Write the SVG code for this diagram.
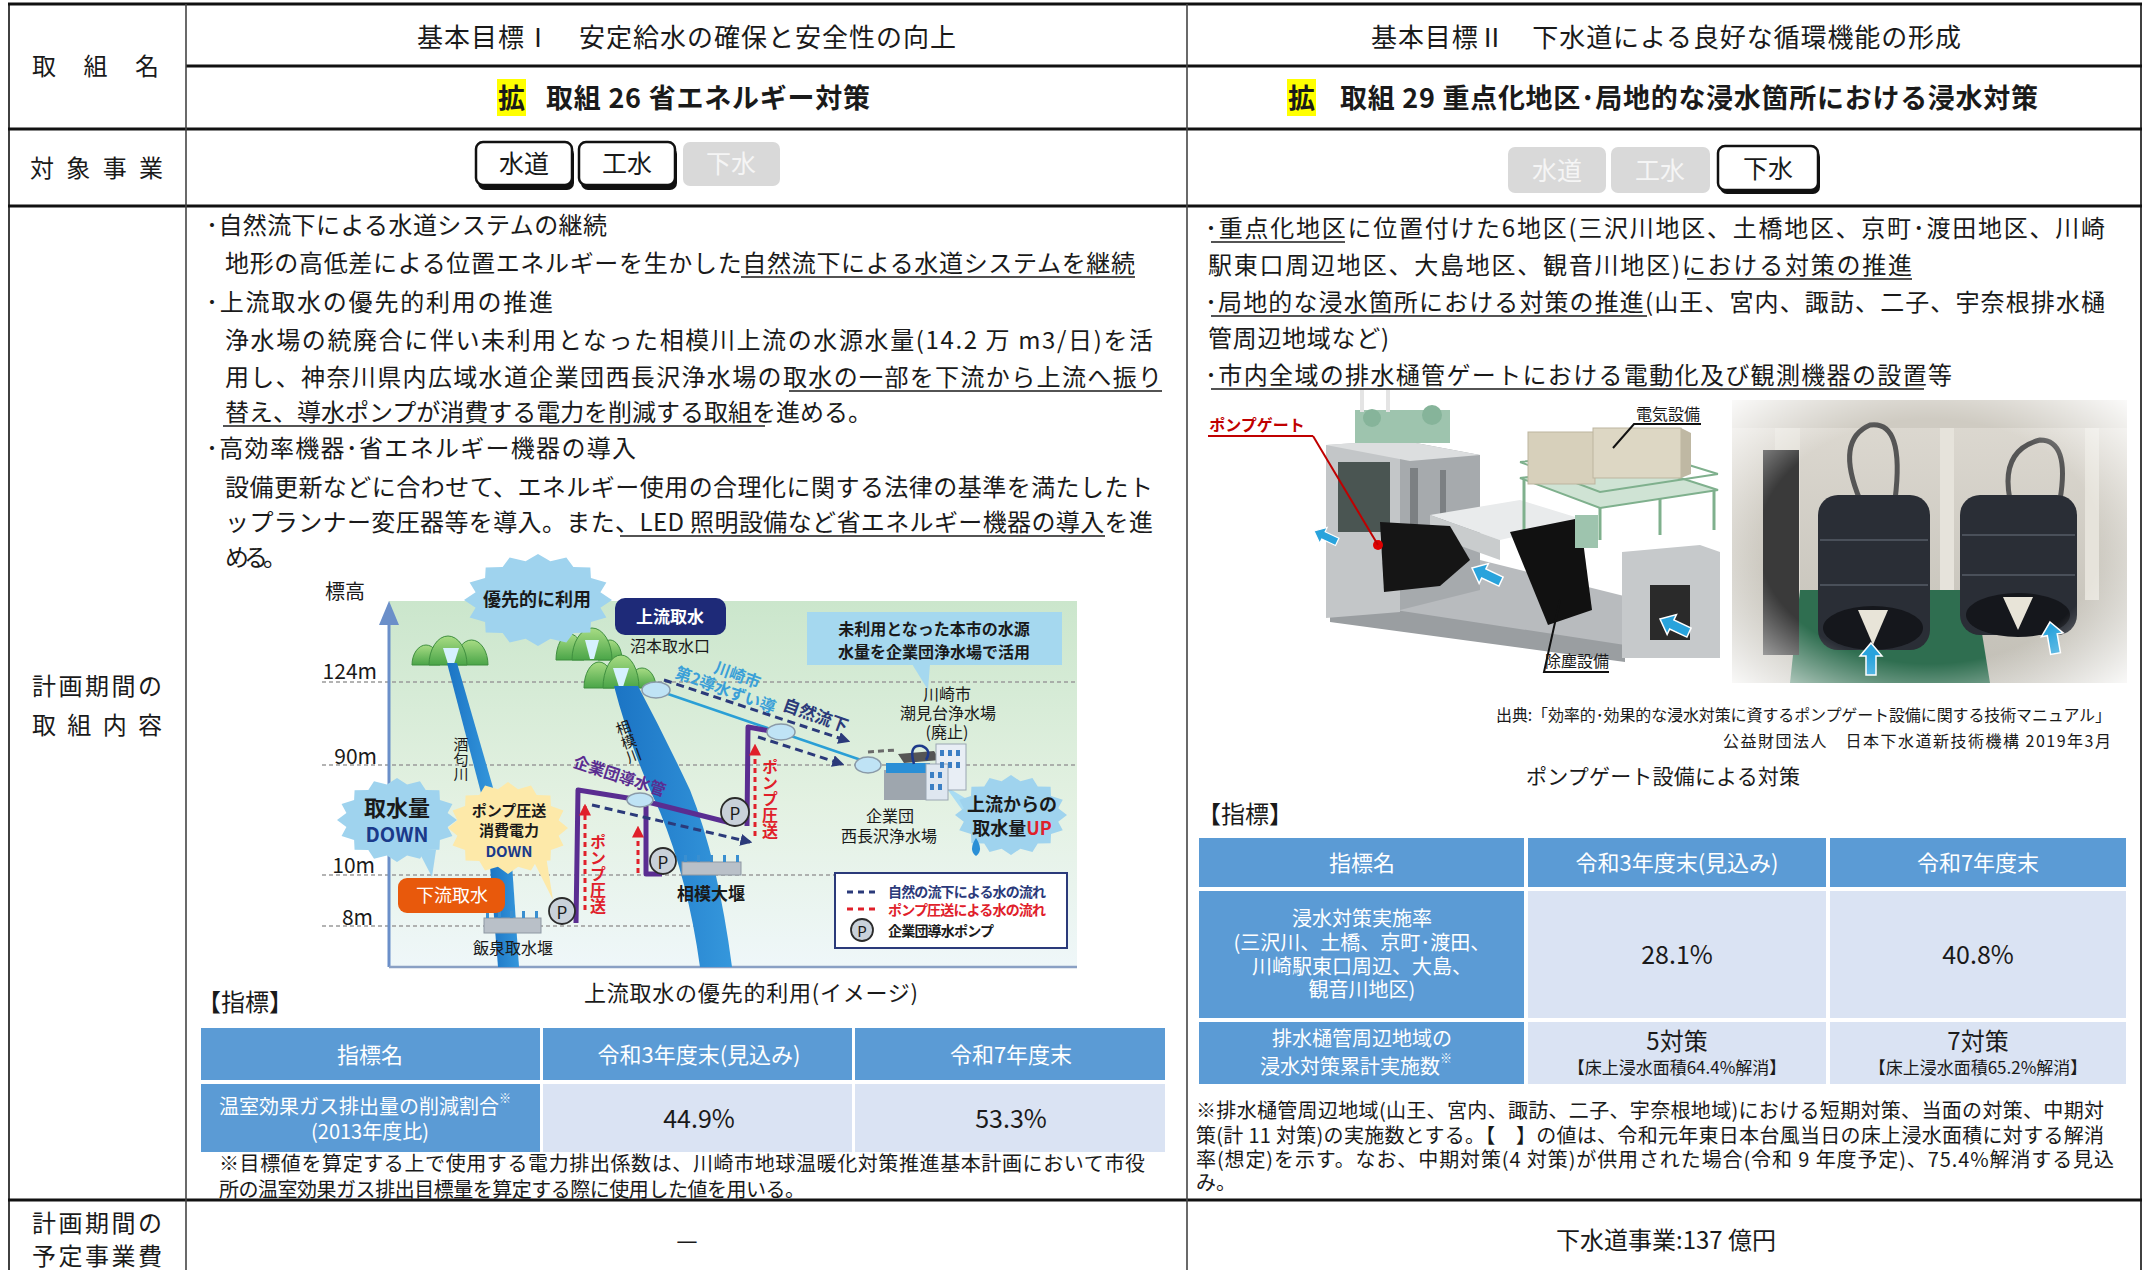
<svg xmlns="http://www.w3.org/2000/svg" width="2145" height="1270" viewBox="0 0 2145 1270">
<defs>
<style>
text{font-family:"Noto Sans CJK JP","Noto Sans",sans-serif;fill:#1a1a1a;dominant-baseline:central}
.body{font-size:24px}
.hdr{font-size:26px}
.hdrb{font-size:27px;font-weight:700}
.lbl{font-size:24px}
.btn{font-size:25px;text-anchor:middle}
.btng{font-size:25px;text-anchor:middle;fill:#f5f5f5}
.th{font-size:22px;fill:#fff;text-anchor:middle}
.tdl{font-size:20px;fill:#fff;text-anchor:middle}
.val{font-size:25px;text-anchor:middle}
.fn{font-size:20px}
.ul{stroke:#1a1a1a;stroke-width:1.6}
.cb{font-weight:700}
.c14{font-size:14px}
.c15{font-size:15px}
.c16{font-size:16px}
.c17{font-size:17px}
.c18{font-size:18px}
.lev{font-size:21px;text-anchor:end}
.mid{text-anchor:middle}
.vt{writing-mode:vertical-rl}
.pump{fill:#c9d1da;stroke:#2b2b2b;stroke-width:1.8}
.pt{font-size:17px;text-anchor:middle}
.hill{fill:url(#hill);stroke:#3f8f3f;stroke-width:1}
.res{fill:#bfe3f5;stroke:#8a9aa8;stroke-width:1.5}
.barrow{fill:#29a3dc;stroke:#fff;stroke-width:1.5}
</style>
<linearGradient id="chartBg" x1="0" y1="0" x2="0" y2="1">
<stop offset="0" stop-color="#cbe6cc"/><stop offset="0.55" stop-color="#e3f1e2"/><stop offset="1" stop-color="#eff7f9"/>
</linearGradient>
<linearGradient id="hill" x1="0" y1="0" x2="0" y2="1">
<stop offset="0" stop-color="#a8dc84"/><stop offset="1" stop-color="#4aa548"/>
</linearGradient>
<linearGradient id="river" x1="0" y1="0" x2="1" y2="0">
<stop offset="0" stop-color="#1b74c4"/><stop offset="1" stop-color="#3597dc"/>
</linearGradient>
<linearGradient id="photoBg" x1="0" y1="0" x2="0" y2="1">
<stop offset="0" stop-color="#dedad2"/><stop offset="1" stop-color="#c2bfb6"/>
</linearGradient>
<radialGradient id="vign" cx="0.5" cy="0.5" r="0.72">
<stop offset="0.6" stop-color="#fff" stop-opacity="0"/><stop offset="1" stop-color="#fff" stop-opacity="0.95"/>
</radialGradient>
<path id="burst" d="M100,0 L84.3,16.8 L92.4,38.3 L71.5,47.8 L70.7,70.7 L47.8,71.5 L38.3,92.4 L16.8,84.3 L0,100 L-16.8,84.3 L-38.3,92.4 L-47.8,71.5 L-70.7,70.7 L-71.5,47.8 L-92.4,38.3 L-84.3,16.8 L-100,0 L-84.3,-16.8 L-92.4,-38.3 L-71.5,-47.8 L-70.7,-70.7 L-47.8,-71.5 L-38.3,-92.4 L-16.8,-84.3 L0,-100 L16.8,-84.3 L38.3,-92.4 L47.8,-71.5 L70.7,-70.7 L71.5,-47.8 L92.4,-38.3 L84.3,-16.8 Z"/>
<path id="bluearrow" d="M0,0 L13,-11 L13,-5 L32,-5 L32,5 L13,5 L13,11 Z"/>
<marker id="ahNavy" viewBox="0 0 10 10" refX="8" refY="5" markerWidth="4" markerHeight="4" orient="auto"><path d="M0,0 L10,5 L0,10 Z" fill="#2b3a7a"/></marker>
<marker id="ahRed" viewBox="0 0 10 10" refX="8" refY="5" markerWidth="4" markerHeight="4" orient="auto"><path d="M0,0 L10,5 L0,10 Z" fill="#e0202a"/></marker>
<clipPath id="photoClip"><rect x="1732" y="400" width="395" height="283"/></clipPath>
</defs>

<rect width="2145" height="1270" fill="#fff"/>

<!-- table grid -->
<g id="table-grid" stroke="#111" fill="none">
<line x1="8" y1="4" x2="2142" y2="4" stroke-width="3"/>
<line x1="186" y1="66" x2="2142" y2="66" stroke-width="3"/>
<line x1="8" y1="129" x2="2142" y2="129" stroke-width="3"/>
<line x1="8" y1="206" x2="2142" y2="206" stroke-width="3"/>
<line x1="8" y1="1200" x2="2142" y2="1200" stroke-width="3"/>
<line x1="9" y1="4" x2="9" y2="1270" stroke-width="1.6"/>
<line x1="186" y1="4" x2="186" y2="1270" stroke-width="1.6" stroke="#444"/>
<line x1="1187" y1="4" x2="1187" y2="1270" stroke-width="1.6" stroke="#444"/>
<line x1="2141" y1="4" x2="2141" y2="1270" stroke-width="1.6"/>
</g>

<!-- row labels -->
<g id="row-labels">
<text class="lbl" x="32" y="64" textLength="127">取組名</text>
<text class="lbl" x="30" y="166" textLength="133">対象事業</text>
<text class="lbl" x="32" y="684" textLength="130">計画期間の</text>
<text class="lbl" x="32" y="723" textLength="130">取組内容</text>
<text class="lbl" x="32" y="1221" textLength="130">計画期間の</text>
<text class="lbl" x="32" y="1254" textLength="130">予定事業費</text>
</g>

<!-- headers -->
<g id="header-left">
<text class="hdr" x="417" y="35" textLength="539">基本目標Ⅰ　安定給水の確保と安全性の向上</text>
<rect x="497" y="79" width="29" height="37" fill="#ffff00"/>
<text class="hdrb" x="498" y="96">拡</text>
<text class="hdrb" x="546" y="96" textLength="324">取組 26 省エネルギー対策</text>
</g>
<g id="header-right">
<text class="hdr" x="1371" y="35" textLength="590">基本目標Ⅱ　下水道による良好な循環機能の形成</text>
<rect x="1287" y="79" width="29" height="37" fill="#ffff00"/>
<text class="hdrb" x="1288" y="96">拡</text>
<text class="hdrb" x="1340" y="96" textLength="698">取組 29 重点化地区･局地的な浸水箇所における浸水対策</text>
</g>

<!-- business buttons -->
<g id="buttons-left">
<rect x="478" y="147" width="96" height="43" rx="7" fill="#111"/>
<rect x="476" y="142" width="96" height="43" rx="7" fill="#fff" stroke="#111" stroke-width="2.5"/>
<text class="btn" x="524" y="162">水道</text>
<rect x="581" y="147" width="96" height="43" rx="7" fill="#111"/>
<rect x="579" y="142" width="96" height="43" rx="7" fill="#fff" stroke="#111" stroke-width="2.5"/>
<text class="btn" x="627" y="162">工水</text>
<rect x="683" y="142" width="97" height="44" rx="7" fill="#d9d9d9"/>
<text class="btng" x="731" y="162">下水</text>
</g>
<g id="buttons-right">
<rect x="1508" y="147" width="98" height="46" rx="7" fill="#d9d9d9"/>
<text class="btng" x="1557" y="169">水道</text>
<rect x="1611" y="147" width="99" height="46" rx="7" fill="#d9d9d9"/>
<text class="btng" x="1660" y="169">工水</text>
<rect x="1720" y="150" width="100" height="44" rx="7" fill="#111"/>
<rect x="1718" y="146" width="100" height="44" rx="7" fill="#fff" stroke="#111" stroke-width="2.5"/>
<text class="btn" x="1768" y="167">下水</text>
</g>

<!-- left body text -->
<g id="content-left">
<text class="body" x="206" y="223" textLength="401">･自然流下による水道システムの継続</text>
<text class="body" x="225" y="261" textLength="910">地形の高低差による位置エネルギーを生かした自然流下による水道システムを継続</text>
<line class="ul" x1="741" y1="277" x2="1135" y2="277"/>
<text class="body" x="206" y="300" textLength="347">･上流取水の優先的利用の推進</text>
<text class="body" x="225" y="338" textLength="928">浄水場の統廃合に伴い未利用となった相模川上流の水源水量(14.2 万 m3/日)を活</text>
<text class="body" x="225" y="375" textLength="937">用し、神奈川県内広域水道企業団西長沢浄水場の取水の一部を下流から上流へ振り</text>
<line class="ul" x1="789" y1="391" x2="1162" y2="391"/>
<text class="body" x="225" y="410" textLength="647">替え、導水ポンプが消費する電力を削減する取組を進める。</text>
<line class="ul" x1="223" y1="426" x2="765" y2="426"/>
<text class="body" x="206" y="446" textLength="430">･高効率機器･省エネルギー機器の導入</text>
<text class="body" x="225" y="485" textLength="928">設備更新などに合わせて、エネルギー使用の合理化に関する法律の基準を満たしたト</text>
<text class="body" x="225" y="520" textLength="928">ップランナー変圧器等を導入。また、LED 照明設備など省エネルギー機器の導入を進</text>
<line class="ul" x1="620" y1="536" x2="1105" y2="536"/>
<text class="body" x="225" y="555" textLength="62">める。</text>
</g>

<!-- left chart -->
<g id="chart-upstream-intake">
<rect x="389" y="601" width="688" height="366" fill="url(#chartBg)"/>
<g stroke="#9a9a9a" stroke-width="1.3" stroke-dasharray="4 3">
<line x1="322" y1="682" x2="1077" y2="682"/>
<line x1="322" y1="765" x2="1077" y2="765"/>
<line x1="322" y1="875" x2="835" y2="875"/>
<line x1="322" y1="926" x2="700" y2="926"/>
</g>
<line x1="389" y1="622" x2="389" y2="967" stroke="#6b8fc9" stroke-width="3"/>
<polygon points="389,601 379,625 399,625" fill="#6b8fc9"/>
<line x1="389" y1="967" x2="1077" y2="967" stroke="#8aa0c4" stroke-width="2.5"/>
<text x="325" y="590" style="font-size:20px">標高</text>
<text class="lev" x="377" y="670">124m</text>
<text class="lev" x="377" y="755">90m</text>
<text class="lev" x="375" y="864">10m</text>
<text class="lev" x="373" y="916">8m</text>

<!-- hills -->
<path class="hill" d="M412,665 A14,20 0 0 1 440,665 Z"/>
<path class="hill" d="M455,665 A16.5,25 0 0 1 488,665 Z"/>
<path class="hill" d="M429,665 A19,29 0 0 1 467,665 Z"/>
<polygon points="443,648 459,648 454,664 448,664" fill="#d6f1ff"/>
<path class="hill" d="M556,660 A14,26 0 0 1 584,660 Z"/>
<path class="hill" d="M598,660 A12,20 0 0 1 622,660 Z"/>
<path class="hill" d="M572,660 A20,32 0 0 1 612,660 Z"/>
<polygon points="585,640 599,640 594,659 590,659" fill="#d6f1ff"/>
<path class="hill" d="M584,688 A15,26 0 0 1 614,688 Z"/>
<path class="hill" d="M628,688 A14,20 0 0 1 656,688 Z"/>
<path class="hill" d="M603,688 A18,33 0 0 1 639,688 Z"/>
<polygon points="613,668 629,668 623,687 619,687" fill="#d6f1ff"/>

<!-- rivers -->
<polygon points="447,663 457,663 494,791 481,793" fill="url(#river)"/>
<path d="M490,866 Q500,857 512,864 L519,967 L498,967 Z" fill="url(#river)"/>
<path d="M614,686 L638,686 Q664,735 690,790 Q718,860 732,967 L700,967 Q688,880 660,812 Q630,748 614,686 Z" fill="url(#river)"/>

<!-- weirs -->
<rect x="484" y="918" width="57" height="15" fill="#b9c0c8" stroke="#8e98a3"/>
<g fill="#3a8fd0"><rect x="486" y="911" width="3" height="7"/><rect x="498" y="911" width="3" height="7"/><rect x="510" y="911" width="3" height="7"/><rect x="522" y="911" width="3" height="7"/><rect x="535" y="911" width="3" height="7"/></g>
<rect x="682" y="862" width="59" height="13" fill="#b9c0c8" stroke="#8e98a3"/>
<g fill="#3a8fd0"><rect x="684" y="855" width="3" height="7"/><rect x="697" y="855" width="3" height="7"/><rect x="710" y="855" width="3" height="7"/><rect x="723" y="855" width="3" height="7"/><rect x="736" y="855" width="3" height="7"/></g>

<!-- bursts -->
<use href="#burst" transform="translate(538,600) scale(0.74,0.46)" fill="#9fd3ee"/>
<polygon points="418,850 432,877 436,850" fill="#9fd3ee"/>
<use href="#burst" transform="translate(397,820) scale(0.60,0.42)" fill="#9fd3ee"/>
<polygon points="532,858 553,900 546,856" fill="#fde9a9"/>
<use href="#burst" transform="translate(508,828) scale(0.60,0.46)" fill="#fde9a9"/>
<polygon points="945,786 985,810 975,828" fill="#a9dcf3"/>
<use href="#burst" transform="translate(1011,815) scale(0.56,0.40)" fill="#9fd3ee"/>
<path d="M976,838 Q968,850 976,856 Q984,850 976,838 Z" fill="#2a8fd6"/>

<!-- pipes and flows -->
<g id="connectors-chart">
<line x1="668" y1="694" x2="864" y2="761" stroke="#2a9fd6" stroke-width="2.5"/>
<path d="M576,923 L578,790 L640,800 L735,824" fill="none" stroke="#5a2d91" stroke-width="5" stroke-linejoin="round"/>
<path d="M747,826 L748,727 L770,731" fill="none" stroke="#5a2d91" stroke-width="5" stroke-linejoin="round"/>
<path d="M662,874 L646,874 L646,806" fill="none" stroke="#5a2d91" stroke-width="5" stroke-linejoin="round"/>
<g fill="none" stroke="#2b3a7a" stroke-width="3" stroke-dasharray="8 5" marker-end="url(#ahNavy)">
<path d="M664,680 L848,741"/>
<path d="M758,737 L842,764"/>
<path d="M592,805 L750,842"/>
</g>
<g fill="none" stroke="#e0202a" stroke-width="3" stroke-dasharray="5 4" marker-end="url(#ahRed)">
<path d="M585,910 L585,806"/>
<path d="M638,873 L638,828"/>
<path d="M755,836 L755,746"/>
</g>
<path d="M868,752 L896,750" stroke="#6a6a6a" stroke-width="3" stroke-dasharray="6 4" fill="none"/>
</g>
<ellipse class="res" cx="640" cy="800" rx="13" ry="7"/>
<ellipse class="res" cx="656" cy="690" rx="14" ry="8"/>
<ellipse class="res" cx="781" cy="732" rx="14" ry="8"/>
<ellipse class="res" cx="868" cy="765" rx="13" ry="8"/>

<!-- pumps -->
<g id="pumps">
<circle class="pump" cx="562" cy="911" r="13"/><text class="pt" x="562" y="911">P</text>
<circle class="pump" cx="663" cy="861" r="13"/><text class="pt" x="663" y="861">P</text>
<circle class="pump" cx="735" cy="812" r="14"/><text class="pt" x="735" y="812">P</text>
</g>

<!-- purification plant -->
<rect x="884" y="770" width="48" height="30" fill="#9ea6ae"/>
<rect x="886" y="763" width="44" height="10" fill="#2a8fd6"/>
<polygon points="898,754 934,751 940,760 904,763" fill="#555"/>
<rect x="936" y="744" width="30" height="46" fill="#e8eef5" stroke="#9aa6b2"/>
<rect x="926" y="764" width="22" height="36" fill="#dfe7f0" stroke="#9aa6b2"/>
<g fill="#3b7fc4"><rect x="940" y="750" width="4" height="6"/><rect x="948" y="750" width="4" height="6"/><rect x="956" y="750" width="4" height="6"/><rect x="940" y="762" width="4" height="6"/><rect x="948" y="762" width="4" height="6"/><rect x="956" y="762" width="4" height="6"/><rect x="930" y="772" width="4" height="6"/><rect x="938" y="772" width="4" height="6"/><rect x="930" y="784" width="4" height="6"/><rect x="938" y="784" width="4" height="6"/></g>
<path d="M914,764 Q908,744 922,746 Q932,750 926,760" fill="none" stroke="#1e3a8a" stroke-width="2.5"/>

<!-- boxes -->
<rect x="615" y="598" width="111" height="37" rx="10" fill="#1e2a78"/>
<text class="c17 cb mid" x="670" y="615" style="fill:#fff">上流取水</text>
<text class="c16 mid" x="670" y="645">沼本取水口</text>
<polygon points="912,664 930,664 928,690" fill="#a5d8ef"/>
<rect x="807" y="612" width="255" height="53" fill="#a5d8ef"/>
<text class="c16 cb mid"><tspan x="934" y="628">未利用となった本市の水源</tspan><tspan x="934" y="651">水量を企業団浄水場で活用</tspan></text>
<rect x="398" y="878" width="107" height="35" rx="9" fill="#e8590c"/>
<text class="c18 mid" x="452" y="894" style="fill:#fff">下流取水</text>

<!-- labels -->
<text class="c18 cb mid" x="537" y="598">優先的に利用</text>
<text class="cb mid"><tspan x="397" y="806" style="font-size:22px">取水量</tspan><tspan x="397" y="833" style="font-size:20px;fill:#1a3a8a">DOWN</tspan></text>
<text class="c15 cb mid"><tspan x="509" y="809">ポンプ圧送</tspan><tspan x="509" y="829">消費電力</tspan><tspan x="509" y="850" style="fill:#1a3a8a">DOWN</tspan></text>
<text class="c18 cb mid"><tspan x="1012" y="803">上流からの</tspan><tspan x="1012" y="827">取水量<tspan style="fill:#e0202a">UP</tspan></tspan></text>
<text class="c16 mid"><tspan x="947" y="693">川崎市</tspan><tspan x="948" y="712">潮見台浄水場</tspan><tspan x="947" y="731">(廃止)</tspan></text>
<text class="c16 mid"><tspan x="890" y="815">企業団</tspan><tspan x="889" y="835">西長沢浄水場</tspan></text>
<text class="c16 mid" x="513" y="947">飯泉取水堰</text>
<text class="c17 cb mid" x="711" y="892">相模大堰</text>
<text class="c15 vt" x="461" y="737">酒匂川</text>
<text class="c15 vt" x="629" y="719" transform="rotate(-20 629 743)">相模川</text>
<text class="c16 cb mid" transform="rotate(20 731 681)" style="fill:#3aa0d8"><tspan x="735" y="672">川崎市</tspan><tspan x="729" y="690">第2導水ずい導</tspan></text>
<text class="c17 cb mid" x="816" y="714" transform="rotate(20 816 714)" style="fill:#2b3a7a">自然流下</text>
<text class="c16 cb mid" x="620" y="775" transform="rotate(18 620 775)" style="fill:#5a2d91">企業団導水管</text>
<text class="c16 cb vt" x="598" y="834" style="fill:#e0202a">ポンプ圧送</text>
<text class="c16 cb vt" x="770" y="759" style="fill:#e0202a">ポンプ圧送</text>

<!-- legend -->
<rect x="835" y="873" width="232" height="75" fill="#fff" stroke="#2b3a7a" stroke-width="2"/>
<line x1="847" y1="892" x2="877" y2="892" stroke="#2b3a7a" stroke-width="3" stroke-dasharray="6 5"/>
<text class="c14 cb" x="888" y="891" textLength="158" style="fill:#2b3a7a">自然の流下による水の流れ</text>
<line x1="847" y1="909" x2="877" y2="909" stroke="#e0202a" stroke-width="3" stroke-dasharray="6 5"/>
<text class="c14 cb" x="888" y="909" textLength="158" style="fill:#e0202a">ポンプ圧送による水の流れ</text>
<circle class="pump" cx="862" cy="930" r="11"/><text class="c15 mid" x="862" y="930">P</text>
<text class="c14 cb" x="888" y="930" textLength="106">企業団導水ポンプ</text>
</g>
<text id="caption-left" x="584" y="991" textLength="334" style="font-size:22px">上流取水の優先的利用(イメージ)</text>

<!-- left indicator table -->
<g id="indicator-left">
<text x="197" y="1000" style="font-size:24px">【指標】</text>
<rect x="201" y="1028" width="339" height="52" fill="#5b9bd5"/>
<rect x="543" y="1028" width="309" height="52" fill="#5b9bd5"/>
<rect x="855" y="1028" width="310" height="52" fill="#5b9bd5"/>
<rect x="201" y="1084" width="339" height="68" fill="#5b9bd5"/>
<rect x="543" y="1084" width="309" height="68" fill="#dae3f3"/>
<rect x="855" y="1084" width="310" height="68" fill="#dae3f3"/>
<text class="th" x="370" y="1053">指標名</text>
<text class="th" x="699" y="1053">令和3年度末(見込み)</text>
<text class="th" x="1011" y="1053">令和7年度末</text>
<text class="tdl" x="365" y="1105">温室効果ガス排出量の削減割合<tspan dy="-8" style="font-size:12px;fill:#fff">※</tspan></text>
<text class="tdl" x="370" y="1130">(2013年度比)</text>
<text class="val" x="699" y="1117">44.9%</text>
<text class="val" x="1011" y="1117">53.3%</text>
<text class="fn" x="219" y="1162" textLength="926">※目標値を算定する上で使用する電力排出係数は、川崎市地球温暖化対策推進基本計画において市役</text>
<text class="fn" x="219" y="1188" textLength="586">所の温室効果ガス排出目標量を算定する際に使用した値を用いる。</text>
</g>

<!-- right body text -->
<g id="content-right">
<text class="body" x="1205" y="226" textLength="900">･重点化地区に位置付けた6地区(三沢川地区、土橋地区、京町･渡田地区、川崎</text>
<line class="ul" x1="1211" y1="242" x2="1345" y2="242"/>
<text class="body" x="1208" y="263" textLength="704">駅東口周辺地区、大島地区、観音川地区)における対策の推進</text>
<line class="ul" x1="1687" y1="279" x2="1912" y2="279"/>
<text class="body" x="1205" y="300" textLength="900">･局地的な浸水箇所における対策の推進(山王、宮内、諏訪、二子、宇奈根排水樋</text>
<line class="ul" x1="1211" y1="316" x2="1647" y2="316"/>
<text class="body" x="1208" y="336" textLength="181">管周辺地域など)</text>
<text class="body" x="1205" y="373" textLength="747">･市内全域の排水樋管ゲートにおける電動化及び観測機器の設置等</text>
<line class="ul" x1="1211" y1="389" x2="1924" y2="389"/>
</g>

<!-- pump gate illustration -->
<g id="pumpgate-illustration">
<polygon points="1345,585 1480,560 1640,600 1640,655 1470,640 1330,610" fill="#b8bbbe"/>
<polygon points="1330,600 1625,645 1625,662 1330,622" fill="#9a9ea1"/>
<polygon points="1400,440 1480,455 1480,590 1400,610" fill="#a6aaad"/>
<polygon points="1326,445 1400,440 1400,612 1326,618" fill="#c3c6c8"/>
<polygon points="1326,445 1400,440 1480,455 1410,461" fill="#dcdedf"/>
<rect x="1338" y="462" width="52" height="70" fill="#4a5552"/>
<rect x="1410" y="468" width="8" height="60" fill="#7c8083"/>
<rect x="1440" y="470" width="6" height="55" fill="#7c8083"/>
<rect x="1355" y="410" width="95" height="33" fill="#9ec4ae"/>
<circle cx="1372" cy="418" r="9" fill="#86b49a"/>
<circle cx="1432" cy="415" r="10" fill="#86b49a"/>
<line x1="1362" y1="390" x2="1362" y2="412" stroke="#e4e4e4" stroke-width="4"/>
<line x1="1388" y1="390" x2="1388" y2="412" stroke="#e4e4e4" stroke-width="4"/>
<polygon points="1430,515 1520,500 1585,520 1500,540" fill="#e9ebec"/>
<polygon points="1430,515 1500,540 1500,560 1430,535" fill="#c9cccd"/>
<polygon points="1380,522 1450,526 1470,560 1440,586 1384,592" fill="#151515"/>
<circle cx="1378" cy="545" r="5" fill="#dd0000"/>
<polygon points="1520,478 1640,465 1718,490 1600,508" fill="#cfe3d4" stroke="#7fb08d" stroke-width="2"/>
<g stroke="#7fb08d" stroke-width="3"><line x1="1524" y1="480" x2="1524" y2="530"/><line x1="1600" y1="508" x2="1600" y2="540"/><line x1="1714" y1="490" x2="1714" y2="530"/><line x1="1660" y1="498" x2="1660" y2="535"/></g>
<polyline points="1520,462 1640,450 1718,474" fill="none" stroke="#7fb08d" stroke-width="2"/>
<polyline points="1520,462 1600,492 1718,474" fill="none" stroke="#7fb08d" stroke-width="2"/>
<rect x="1528" y="432" width="67" height="52" fill="#d7d0bb" stroke="#bdb59f"/>
<rect x="1593" y="428" width="88" height="50" fill="#ddd7c4" stroke="#bdb59f"/>
<polygon points="1681,428 1691,433 1691,474 1681,478" fill="#bfb8a3"/>
<polygon points="1622,552 1700,545 1720,552 1720,658 1622,658" fill="#c6c9cb"/>
<rect x="1650" y="585" width="40" height="55" fill="#2a2a2a"/>
<polygon points="1510,532 1580,518 1592,610 1548,625" fill="#111"/>
<rect x="1575" y="515" width="23" height="33" fill="#9ec4ae"/>
<use href="#bluearrow" class="barrow" transform="translate(1314,531) rotate(25) scale(0.8)"/>
<use href="#bluearrow" class="barrow" transform="translate(1472,568) rotate(25)"/>
<use href="#bluearrow" class="barrow" transform="translate(1660,619) rotate(25)"/>
<text class="c16 cb mid" x="1257" y="424" style="fill:#c00000">ポンプゲート</text>
<line x1="1208" y1="436" x2="1313" y2="436" stroke="#c00000" stroke-width="2"/>
<line x1="1313" y1="436" x2="1378" y2="545" stroke="#c00000" stroke-width="2"/>
<text class="c16 mid" x="1668" y="413">電気設備</text>
<polyline points="1701,424 1634,424 1613,448" fill="none" stroke="#111" stroke-width="2"/>
<text class="c16 mid" x="1577" y="660">除塵設備</text>
<polyline points="1609,672 1544,672 1560,600" fill="none" stroke="#111" stroke-width="2"/>
</g>

<!-- pump photo -->
<g id="pumpgate-photo" clip-path="url(#photoClip)">
<rect x="1732" y="400" width="395" height="283" fill="url(#photoBg)"/>
<rect x="1775" y="400" width="25" height="200" fill="#e3e0d8"/>
<rect x="1940" y="400" width="14" height="200" fill="#e6e3db"/>
<rect x="2085" y="400" width="14" height="200" fill="#e6e3db"/>
<rect x="1732" y="400" width="395" height="28" fill="#cfcbc2"/>
<polygon points="1800,590 1975,590 1990,683 1790,683" fill="#2f6e50"/>
<rect x="1763" y="450" width="36" height="205" fill="#3a3a3a"/>
<path d="M1860,500 Q1835,440 1870,425 Q1905,420 1895,500" fill="none" stroke="#555" stroke-width="5"/>
<path d="M2010,500 Q2000,450 2040,440 Q2070,440 2060,500" fill="none" stroke="#555" stroke-width="5"/>
<rect x="1818" y="495" width="112" height="155" rx="20" fill="#2a2e36"/>
<g stroke="#4a505a" stroke-width="2"><line x1="1820" y1="540" x2="1928" y2="540"/><line x1="1820" y1="585" x2="1928" y2="585"/></g>
<ellipse cx="1873" cy="628" rx="50" ry="22" fill="#15171c"/>
<polygon points="1858,610 1888,610 1873,645" fill="#e8e4d8"/>
<rect x="1960" y="495" width="117" height="140" rx="20" fill="#2a2e36"/>
<g stroke="#4a505a" stroke-width="2"><line x1="1962" y1="535" x2="2075" y2="535"/><line x1="1962" y1="575" x2="2075" y2="575"/></g>
<ellipse cx="2018" cy="615" rx="52" ry="22" fill="#15171c"/>
<polygon points="2003,597 2033,597 2018,630" fill="#e8e4d8"/>
<use href="#bluearrow" class="barrow" transform="translate(1871,643) rotate(90)"/>
<use href="#bluearrow" class="barrow" transform="translate(2050,622) rotate(80)"/>
<rect x="1732" y="400" width="395" height="283" fill="url(#vign)"/>
</g>
<text x="2111" y="714" textLength="615" style="font-size:16px;text-anchor:end">出典:「効率的･効果的な浸水対策に資するポンプゲート設備に関する技術マニュアル」</text>
<text x="2111" y="740" textLength="388" style="font-size:16px;text-anchor:end">公益財団法人　日本下水道新技術機構 2019年3月</text>
<text id="caption-right" x="1526" y="775" textLength="274" style="font-size:21px">ポンプゲート設備による対策</text>

<!-- right indicator table -->
<g id="indicator-right">
<text x="1197" y="812" style="font-size:24px">【指標】</text>
<rect x="1199" y="838" width="325" height="49" fill="#5b9bd5"/>
<rect x="1528" y="838" width="298" height="49" fill="#5b9bd5"/>
<rect x="1830" y="838" width="296" height="49" fill="#5b9bd5"/>
<rect x="1199" y="891" width="325" height="127" fill="#5b9bd5"/>
<rect x="1528" y="891" width="298" height="127" fill="#dae3f3"/>
<rect x="1830" y="891" width="296" height="127" fill="#dae3f3"/>
<rect x="1199" y="1022" width="325" height="62" fill="#5b9bd5"/>
<rect x="1528" y="1022" width="298" height="62" fill="#dae3f3"/>
<rect x="1830" y="1022" width="296" height="62" fill="#dae3f3"/>
<text class="th" x="1362" y="861">指標名</text>
<text class="th" x="1677" y="861">令和3年度末(見込み)</text>
<text class="th" x="1978" y="861">令和7年度末</text>
<text class="tdl" x="1362" y="917">浸水対策実施率</text>
<text class="tdl" x="1362" y="941">(三沢川、土橋、京町･渡田、</text>
<text class="tdl" x="1362" y="965">川崎駅東口周辺、大島、</text>
<text class="tdl" x="1362" y="988">観音川地区)</text>
<text class="val" x="1677" y="953">28.1%</text>
<text class="val" x="1978" y="953">40.8%</text>
<text class="tdl" x="1362" y="1037">排水樋管周辺地域の</text>
<text class="tdl" x="1356" y="1065">浸水対策累計実施数<tspan dy="-8" style="font-size:12px;fill:#fff">※</tspan></text>
<text class="val" x="1677" y="1039" style="font-size:24px">5対策</text>
<text class="mid" x="1677" y="1066" style="font-size:17px">【床上浸水面積64.4%解消】</text>
<text class="val" x="1978" y="1039" style="font-size:24px">7対策</text>
<text class="mid" x="1978" y="1066" style="font-size:17px">【床上浸水面積65.2%解消】</text>
<text class="fn" x="1196" y="1109" textLength="908">※排水樋管周辺地域(山王、宮内、諏訪、二子、宇奈根地域)における短期対策、当面の対策、中期対</text>
<text class="fn" x="1196" y="1134" textLength="908">策(計 11 対策)の実施数とする。【　】の値は、令和元年東日本台風当日の床上浸水面積に対する解消</text>
<text class="fn" x="1196" y="1158" textLength="918">率(想定)を示す。なお、中期対策(4 対策)が供用された場合(令和 9 年度予定)、75.4%解消する見込</text>
<text class="fn" x="1196" y="1181">み。</text>
</g>

<!-- budget row -->
<g id="budget-row">
<text x="687" y="1238" style="font-size:24px;text-anchor:middle">—</text>
<text x="1666" y="1238" style="font-size:24px;text-anchor:middle">下水道事業:137 億円</text>
</g>
</svg>
